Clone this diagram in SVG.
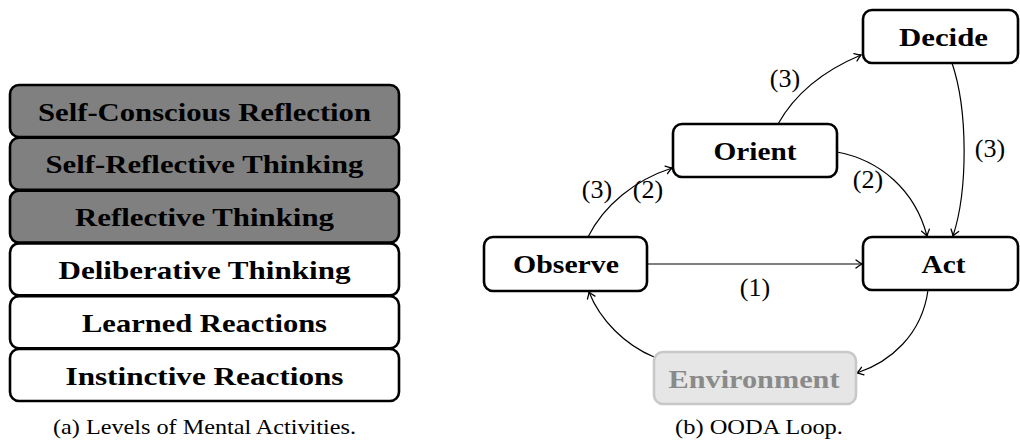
<svg xmlns="http://www.w3.org/2000/svg" width="1020" height="441" viewBox="0 0 1020 441">
<style>
.box{stroke:#000;stroke-width:2.6;fill:#fff}
.dark{fill:#808080}
.env{fill:#e6e6e6;stroke:#c8c8c8;stroke-width:2.6}
.lbl{font-family:"Liberation Serif",serif;font-weight:bold;font-size:26px;fill:#000;text-anchor:middle}
.envt{fill:#8a8a8a}
.num{font-family:"Liberation Serif",serif;font-size:26px;fill:#000;text-anchor:middle}
.cap{font-family:"Liberation Serif",serif;font-size:21px;fill:#000;text-anchor:middle}
.edge{fill:none;stroke:#000;stroke-width:1.2}
.gray{stroke:#555;stroke-width:1.4}
</style>
<defs>
<marker id="arr" markerUnits="userSpaceOnUse" markerWidth="12" markerHeight="12" viewBox="-8 -6 10 12" refX="0" refY="0" orient="auto">
<path d="M-6,-4 Q-2,-1 0,0 Q-2,1 -6,4" fill="none" stroke="#000" stroke-width="1.3" stroke-linecap="round"/>
</marker>
</defs>
<g id="levels">
<g id="n-selfconscious"><rect class="box dark" x="10" y="85" width="389" height="52" rx="9"/><text class="lbl" x="204.5" y="120.5" textLength="333" lengthAdjust="spacingAndGlyphs">Self-Conscious Reflection</text></g>
<g id="n-selfreflective"><rect class="box dark" x="10" y="137.8" width="389" height="52" rx="9"/><text class="lbl" x="204.5" y="173.3" textLength="318" lengthAdjust="spacingAndGlyphs">Self-Reflective Thinking</text></g>
<g id="n-reflective"><rect class="box dark" x="10" y="190.6" width="389" height="52" rx="9"/><text class="lbl" x="204.5" y="226.1" textLength="259" lengthAdjust="spacingAndGlyphs">Reflective Thinking</text></g>
<g id="n-deliberative"><rect class="box" x="10" y="243.4" width="389" height="52" rx="9"/><text class="lbl" x="204.5" y="278.9" textLength="292" lengthAdjust="spacingAndGlyphs">Deliberative Thinking</text></g>
<g id="n-learned"><rect class="box" x="10" y="296.2" width="389" height="52" rx="9"/><text class="lbl" x="204.5" y="331.7" textLength="245" lengthAdjust="spacingAndGlyphs">Learned Reactions</text></g>
<g id="n-instinctive"><rect class="box" x="10" y="349" width="389" height="52" rx="9"/><text class="lbl" x="204.5" y="384.5" textLength="278" lengthAdjust="spacingAndGlyphs">Instinctive Reactions</text></g>
<text class="cap" x="204.5" y="434" textLength="303" lengthAdjust="spacingAndGlyphs">(a) Levels of Mental Activities.</text>
</g>
<g id="connectors">
<path class="edge gray" d="M647,264 L862,264" marker-end="url(#arr)"/>
<path class="edge" d="M588,237 C604,205 635,180 672,168" marker-end="url(#arr)"/>
<path class="edge" d="M778,124 C796,92 825,70 861,55" marker-end="url(#arr)"/>
<path class="edge" d="M952,63 C968,110 968,190 953,236" marker-end="url(#arr)"/>
<path class="edge" d="M837,152 C880,160 915,190 927,236" marker-end="url(#arr)"/>
<path class="edge" d="M928,290 C922,335 890,362 857,373" marker-end="url(#arr)"/>
<path class="edge" d="M654,357 C625,345 600,320 589,292" marker-end="url(#arr)"/>
<text class="num" x="755" y="296">(1)</text>
<text class="num" x="597" y="198">(3)</text>
<text class="num" x="648" y="198">(2)</text>
<text class="num" x="785" y="87">(3)</text>
<text class="num" x="990" y="157">(3)</text>
<text class="num" x="868" y="188">(2)</text>
</g>
<g id="n-decide"><rect class="box" x="863" y="10" width="155" height="53" rx="9"/><text class="lbl" x="943.5" y="45.5" textLength="89" lengthAdjust="spacingAndGlyphs">Decide</text></g>
<g id="n-orient"><rect class="box" x="673" y="124" width="164" height="53" rx="9"/><text class="lbl" x="755" y="160" textLength="83" lengthAdjust="spacingAndGlyphs">Orient</text></g>
<g id="n-observe"><rect class="box" x="484" y="237" width="163" height="54" rx="9"/><text class="lbl" x="566" y="273" textLength="106" lengthAdjust="spacingAndGlyphs">Observe</text></g>
<g id="n-act"><rect class="box" x="863" y="237" width="155" height="53" rx="9"/><text class="lbl" x="943.5" y="273" textLength="44" lengthAdjust="spacingAndGlyphs">Act</text></g>
<g id="n-environment"><rect class="env" x="654" y="352" width="202" height="52" rx="9"/><text class="lbl envt" x="754" y="387.5" textLength="171" lengthAdjust="spacingAndGlyphs">Environment</text></g>
<text class="cap" x="759" y="434" textLength="168" lengthAdjust="spacingAndGlyphs">(b) OODA Loop.</text>
</svg>
